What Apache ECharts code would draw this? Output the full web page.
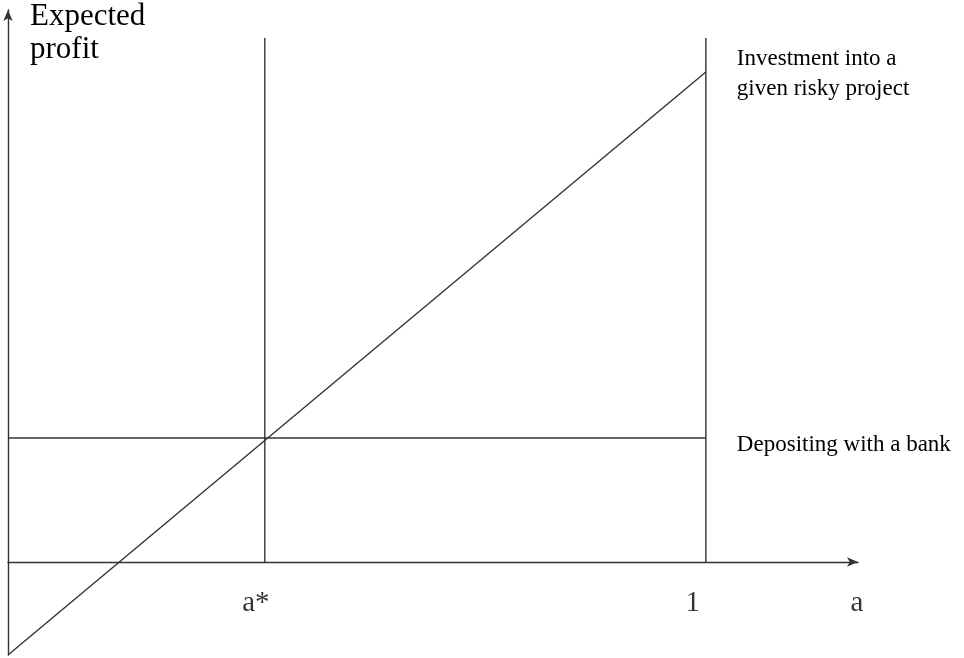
<!DOCTYPE html>
<html>
<head>
<meta charset="utf-8">
<script src="https://cdn.jsdelivr.net/npm/echarts@6/dist/echarts.min.js"></script>
<style>
html,body{margin:0;padding:0;background:#fff;}
#chart{width:964px;height:658px;}
</style>
</head>
<body>
<div id="chart"></div>
<script>
// Data (arbitrary units)
var aStar = 0.368;
var aOne = 1;
var aMax = 1.218;
var yMin = -0.93;
var yMax = 5.52;
var tickValues = [aStar, aOne, aMax];
var tickLabels = ['a*', '1', 'a'];
var investmentLine = [[0, -0.93], [1, 4.90]];
var bankLine = [[0, 1.24], [1, 1.24]];
var aStarLine = [[aStar, 0], [aStar, 5.24]];
var oneLine = [[aOne, 0], [aOne, 5.24]];
var investmentLabel = 'Investment into a\ngiven risky project';
var bankLabel = 'Depositing with a bank';
var yTitle = 'Expected\nprofit';

// style: leftward nudges of the tick labels (px)
var tickLabelShift = [9, 13, 1];

var serif = '"Liberation Serif", "Times New Roman", serif';
var lineColor = '#333';

function plainLine(data, extra) {
  var s = {
    type: 'line',
    data: data,
    symbol: 'none',
    silent: true,
    lineStyle: { color: lineColor, width: 1.4 },
    animation: false
  };
  for (var k in extra) s[k] = extra[k];
  return s;
}

var tickPoints = tickValues.map(function (v, i) {
  return { value: [v, 0], name: tickLabels[i] };
});
var tickRich = {};
tickLabelShift.forEach(function (s, i) {
  tickRich['s' + i] = {
    fontFamily: serif,
    fontSize: 29,
    color: '#000',
    padding: [0, 2 * s, 0, 0]
  };
});

var chart = echarts.init(document.getElementById('chart'));
chart.setOption({
  backgroundColor: '#fff',
  animation: false,
  grid: { left: 8, right: 106, top: 10, bottom: 3, containLabel: false, outerBoundsMode: 'none' },
  xAxis: {
    type: 'value',
    min: 0,
    max: aMax,
    splitLine: { show: false },
    axisLine: {
      onZero: true,
      symbol: ['none', 'arrow'],
      symbolSize: [7, 11],
      lineStyle: { color: lineColor, width: 1.4 }
    },
    axisTick: { show: false },
    axisLabel: { show: false }
  },
  yAxis: {
    type: 'value',
    min: yMin,
    max: yMax,
    splitLine: { show: false },
    axisLine: {
      onZero: false,
      symbol: ['none', 'arrow'],
      symbolSize: [7, 11],
      lineStyle: { color: lineColor, width: 1.4 }
    },
    axisTick: { show: false },
    axisLabel: { show: false }
  },
  graphic: [{
    type: 'text',
    left: 30,
    top: 0,
    style: {
      text: yTitle,
      fontFamily: serif,
      fontSize: 31,
      lineHeight: 33,
      fill: '#000'
    }
  }],
  series: [
    plainLine(investmentLine, {
      endLabel: {
        show: true,
        formatter: investmentLabel,
        distance: 31,
        align: 'left',
        offset: [0, 2],
        fontFamily: serif,
        fontSize: 23,
        lineHeight: 30,
        color: '#000'
      }
    }),
    plainLine(bankLine, {
      endLabel: {
        show: true,
        formatter: bankLabel,
        distance: 31,
        align: 'left',
        offset: [0, 7],
        fontFamily: serif,
        fontSize: 23,
        color: '#000'
      }
    }),
    plainLine(aStarLine),
    plainLine(oneLine),
    {
      type: 'scatter',
      data: tickPoints,
      symbol: 'circle',
      symbolSize: 2,
      itemStyle: { color: 'rgba(0,0,0,0)' },
      silent: true,
      clip: false,
      labelLayout: { hideOverlap: false },
      label: {
        show: true,
        position: 'bottom',
        distance: 26,
        formatter: function (p) { return '{s' + p.dataIndex + '|' + p.name + '}'; },
        rich: tickRich,
        fontFamily: serif,
        fontSize: 29,
        color: '#000'
      },
      animation: false
    }
  ]
});
</script>
</body>
</html>
